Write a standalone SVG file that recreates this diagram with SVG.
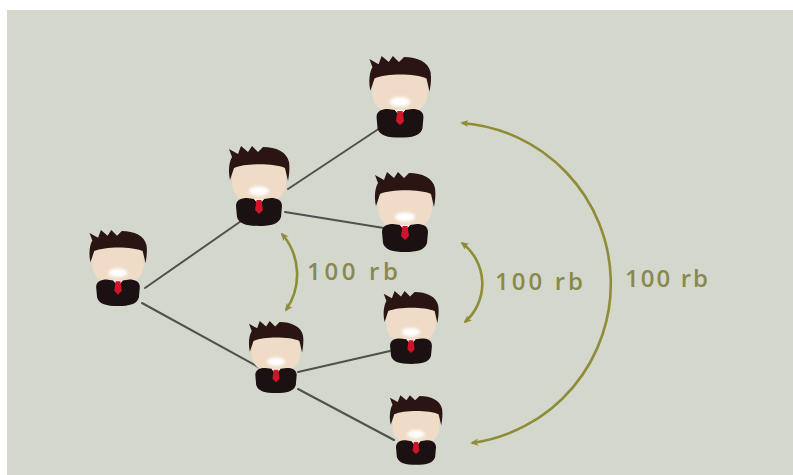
<svg xmlns="http://www.w3.org/2000/svg" width="793" height="475" viewBox="0 0 793 475">
  <defs>
    <style>
      .bg { fill: #d4d8cc; }
      .link { stroke: #505050; stroke-width: 2; fill: none; stroke-linecap: round; }
      .span { stroke: #8e8c38; stroke-width: 2.6; fill: none; }
      .label { font-family: "Open Sans", "DejaVu Sans", sans-serif; font-size: 24px; font-weight: 600; fill: #8a8850; }
      .hair { fill: #2b1512; }
      .face { fill: #f0dcc6; }
      .smile { fill: #ffffff; }
      .suit { fill: #1b1113; }
      .shirt { fill: #f4f0ee; }
      .tie { fill: #d0142a; }
    </style>
    <filter id="soft" x="-50%" y="-50%" width="200%" height="200%">
      <feGaussianBlur stdDeviation="1.6"/>
    </filter>
    <marker id="tip" viewBox="0 0 10 10" refX="7" refY="5" markerWidth="9" markerHeight="9" markerUnits="userSpaceOnUse" orient="auto-start-reverse">
      <path d="M0,1 L9,5 L0,9 L2.5,5 Z" fill="#8e8c38"/>
    </marker>
    <!-- person icon: origin at top centre of the hair -->
    <g id="person">
      <rect class="face" x="-27" y="11" width="54" height="44" rx="19"/>
      <path class="hair" d="M-29,33 C-31,24 -30,15 -27,10 L-30,2 L-21,7 L-18,-1 L-11,5 L-7,-1 L-1,5 L4,0 C17,0 28,5 30,15 C31,22 30,28 29,34 L26,21 C15,16 -14,16 -25,21 Z"/>
      <ellipse class="smile" cx="0" cy="44" rx="10" ry="4.5" filter="url(#soft)"/>
      <path class="suit" d="M-23,59 C-23,53 -18,51 -12,51 L-5,52 L0,58 L5,52 L12,51 C18,51 23,53 23,59 L22,70 C20,77 12,79 0,79 C-12,79 -20,77 -22,70 Z"/>
      <path class="shirt" d="M-5,52 L5,52 L0,58 Z"/>
      <path class="tie" d="M-2.5,53 L2.5,53 L4,63 L0,67 L-4,63 Z"/>
    </g>
  </defs>

  <rect width="793" height="475" fill="#ffffff"/>
  <rect class="bg" x="7" y="10" width="786" height="465"/>

  <g id="connectors">
    <line class="link" x1="145" y1="288" x2="244" y2="219"/>
    <line class="link" x1="142" y1="303" x2="262" y2="369"/>
    <line class="link" x1="288" y1="189" x2="380" y2="128"/>
    <line class="link" x1="285" y1="212" x2="390" y2="229"/>
    <line class="link" x1="298" y1="372" x2="390" y2="351"/>
    <line class="link" x1="298" y1="389" x2="394" y2="440"/>
  </g>

  <g id="p1"><use href="#person" transform="translate(118,231) scale(0.95)"/></g>
  <g id="p2"><use href="#person" transform="translate(259,147)"/></g>
  <g id="p3"><use href="#person" transform="translate(400,57) scale(1.02)"/></g>
  <g id="p4"><use href="#person" transform="translate(405,173)"/></g>
  <g id="p5"><use href="#person" transform="translate(411,292) scale(0.91)"/></g>
  <g id="p6"><use href="#person" transform="translate(276,322) scale(0.9)"/></g>
  <g id="p7"><use href="#person" transform="translate(416,396) scale(0.87)"/></g>

  <g id="spans">
    <path class="span" d="M282,234 A62,62 0 0 1 286,310" marker-start="url(#tip)" marker-end="url(#tip)"/>
    <path class="span" d="M462,243 A51,51 0 0 1 465,322" marker-start="url(#tip)" marker-end="url(#tip)"/>
    <path class="span" d="M462,123 A161,161 0 0 1 472,443" marker-start="url(#tip)" marker-end="url(#tip)"/>
  </g>

  <g id="labels">
    <text class="label" x="307" y="280" textLength="91" lengthAdjust="spacing">100 rb</text>
    <text class="label" x="495" y="290" textLength="88" lengthAdjust="spacing">100 rb</text>
    <text class="label" x="625" y="287" textLength="83" lengthAdjust="spacing">100 rb</text>
  </g>
</svg>
